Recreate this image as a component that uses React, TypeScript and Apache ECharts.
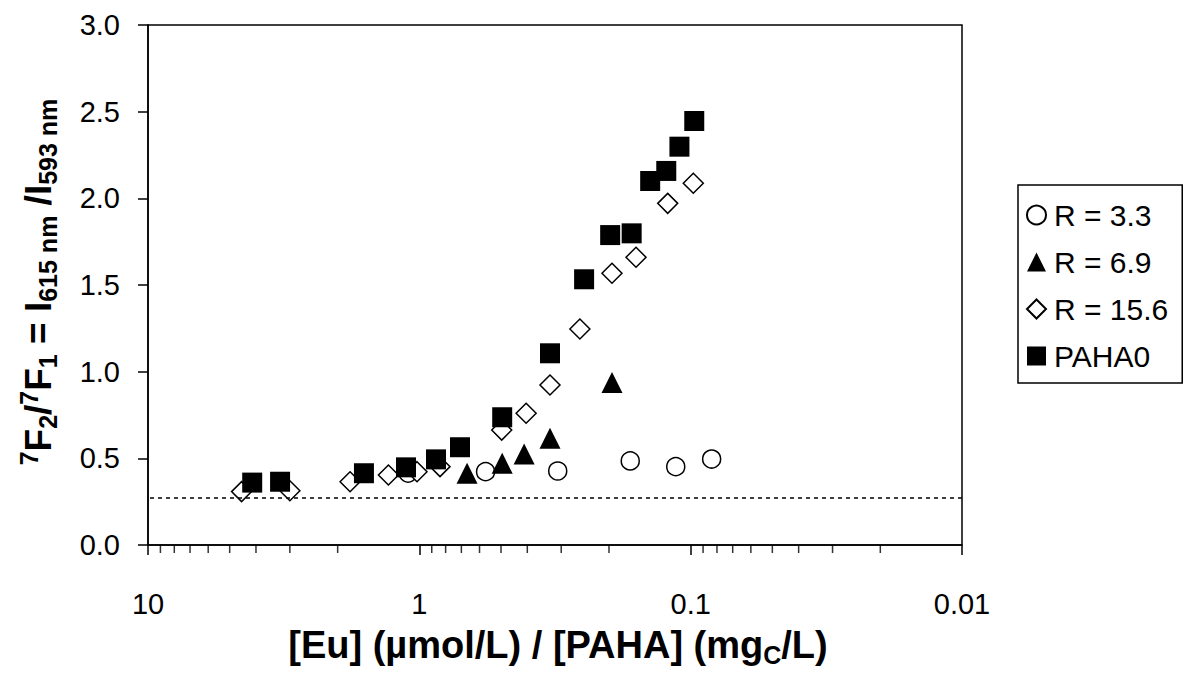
import React, { useEffect, useRef } from "react";
import * as echarts from "echarts";

const FONT = "'Liberation Sans', Arial, Helvetica, sans-serif";

// Series: x = [Eu]/[PAHA] ratio, y = 7F2/7F1 intensity ratio
const r33X = [1.1, 0.57, 0.309, 0.167, 0.1135, 0.0837];
const r33Y = [0.415, 0.423, 0.427, 0.485, 0.452, 0.496];

const r69X = [0.667, 0.495, 0.411, 0.33, 0.195];
const r69Y = [0.414, 0.471, 0.525, 0.616, 0.937];

const r156X = [4.52, 3.0, 1.8, 1.3, 1.02, 0.839, 0.497, 0.404, 0.33, 0.256, 0.195, 0.159, 0.1215, 0.0978];
const r156Y = [0.308, 0.313, 0.365, 0.404, 0.423, 0.452, 0.663, 0.76, 0.923, 1.246, 1.568, 1.66, 1.971, 2.087];

const pahaX = [4.13, 3.26, 1.6, 1.12, 0.868, 0.708, 0.495, 0.33, 0.247, 0.198, 0.165, 0.141, 0.123, 0.11, 0.097];
const pahaY = [0.36, 0.365, 0.414, 0.448, 0.494, 0.564, 0.737, 1.106, 1.533, 1.788, 1.798, 2.1, 2.158, 2.298, 2.446];

const baselineY = 0.27;

const minorTickX = [
  9, 8, 7, 6, 5, 4, 3, 2,
  0.9, 0.8, 0.7, 0.6, 0.5, 0.4, 0.3, 0.2,
  0.09, 0.08, 0.07, 0.06, 0.05, 0.04, 0.03, 0.02,
];

const seriesNames = ["R = 3.3", "R = 6.9", "R = 15.6", "PAHA0"];

function pairs(xs: number[], ys: number[]) {
  return xs.map((x, i) => [x, ys[i]]);
}

export default function App() {
  const ref = useRef<HTMLDivElement>(null);
  useEffect(() => {
    document.body.style.margin = "0";
    const chart = echarts.init(ref.current!, undefined, { renderer: "svg" });
    const black = "#000";
    chart.setOption({
      animation: false,
      backgroundColor: "#fff",
      grid: {
        left: 148,
        right: 226,
        top: 25,
        bottom: 130,
        show: true,
        borderColor: black,
        borderWidth: 1.5,
        backgroundColor: "transparent",
      },
      xAxis: {
        type: "log",
        logBase: 10,
        min: 0.01,
        max: 10,
        inverse: true,
        axisLine: { show: true, onZero: false, lineStyle: { color: black, width: 1.5 } },
        axisTick: { show: true, inside: false, length: 10, lineStyle: { color: black, width: 1.5 } },
        axisLabel: {
          color: black,
          fontSize: 29,
          fontFamily: FONT,
          margin: 44,
          showMinLabel: true,
          showMaxLabel: true,
          formatter: (v: number) => String(parseFloat(Number(v).toPrecision(4))),
        },
        splitLine: { show: false },
      },
      yAxis: {
        type: "value",
        min: 0,
        max: 3,
        interval: 0.5,
        axisLine: { show: true, onZero: false, lineStyle: { color: black, width: 1.5 } },
        axisTick: { show: true, inside: false, length: 10, lineStyle: { color: black, width: 1.5 } },
        axisLabel: {
          color: black,
          fontSize: 29,
          fontFamily: FONT,
          margin: 28,
          formatter: (v: number) => v.toFixed(1),
        },
        splitLine: { show: false },
      },
      legend: {
        data: seriesNames,
        orient: "vertical",
        left: 1018,
        top: 185,
        padding: [15, 14, 12, 8],
        itemGap: 17,
        itemWidth: 19,
        itemHeight: 19,
        borderColor: black,
        borderWidth: 1.5,
        backgroundColor: "#fff",
        selectedMode: false,
        textStyle: { fontSize: 30, fontFamily: FONT, color: black, lineHeight: 30, padding: [0, 0, 0, 3] },
      },
      series: [
        {
          name: "minorTicks",
          type: "scatter",
          silent: true,
          clip: false,
          symbol: "rect",
          symbolSize: [1.5, 8],
          symbolOffset: [0, 4],
          itemStyle: { color: black },
          emphasis: { disabled: true },
          data: minorTickX.map((x) => [x, 0]),
          z: 1,
        },
        {
          name: seriesNames[0],
          type: "scatter",
          symbol: "circle",
          symbolSize: 18,
          itemStyle: { color: "#fff", borderColor: black, borderWidth: 1.5, opacity: 1 },
          emphasis: { disabled: true },
          data: pairs(r33X, r33Y),
          markLine: {
            silent: true,
            symbol: ["none", "none"],
            label: { show: false },
            lineStyle: { color: black, width: 1.6, type: [4, 4] },
            data: [{ yAxis: baselineY }],
          },
          z: 2,
        },
        {
          name: seriesNames[1],
          type: "scatter",
          symbol: "triangle",
          symbolSize: 21,
          itemStyle: { color: black, opacity: 1 },
          emphasis: { disabled: true },
          data: pairs(r69X, r69Y),
          z: 2,
        },
        {
          name: seriesNames[2],
          type: "scatter",
          symbol: "diamond",
          symbolSize: 20,
          itemStyle: { color: "#fff", borderColor: black, borderWidth: 1.5, opacity: 1 },
          emphasis: { disabled: true },
          data: pairs(r156X, r156Y),
          z: 2,
        },
        {
          name: seriesNames[3],
          type: "scatter",
          symbol: "rect",
          symbolSize: 20,
          itemStyle: { color: black, opacity: 1 },
          emphasis: { disabled: true },
          data: pairs(pahaX, pahaY),
          z: 2,
        },
      ],
      graphic: [
        {
          type: "text",
          x: 38,
          y: 282,
          rotation: Math.PI / 2,
          style: {
            text: "{sup|7}{m|F}{sub|2}{m|/}{sup|7}{m|F}{sub|1}{m| = I}{sub|615 nm}{m| /I}{sub|593 nm}",
            align: "center",
            verticalAlign: "middle",
            fill: black,
            rich: {
              m: { fontSize: 37, fontWeight: "bold", fontFamily: FONT, lineHeight: 44, fill: black },
              sub: { fontSize: 25, fontWeight: "bold", fontFamily: FONT, lineHeight: 25, verticalAlign: "bottom", fill: black },
              sup: { fontSize: 25, fontWeight: "bold", fontFamily: FONT, lineHeight: 25, verticalAlign: "top", fill: black },
            },
          },
        },
        {
          type: "text",
          x: 558,
          y: 645,
          style: {
            text: "{m|[Eu] (\u00b5mol/L) / [PAHA] (mg}{sub|C}{m|/L)}",
            align: "center",
            verticalAlign: "middle",
            fill: black,
            rich: {
              m: { fontSize: 38, fontWeight: "bold", fontFamily: FONT, lineHeight: 44, fill: black },
              sub: { fontSize: 25, fontWeight: "bold", fontFamily: FONT, lineHeight: 25, verticalAlign: "bottom", fill: black },
            },
          },
        },
      ],
    });
    return () => chart.dispose();
  }, []);
  return (
    <div
      ref={ref}
      style={{ position: "absolute", left: 0, top: 0, width: 1188, height: 675 }}
    />
  );
}
